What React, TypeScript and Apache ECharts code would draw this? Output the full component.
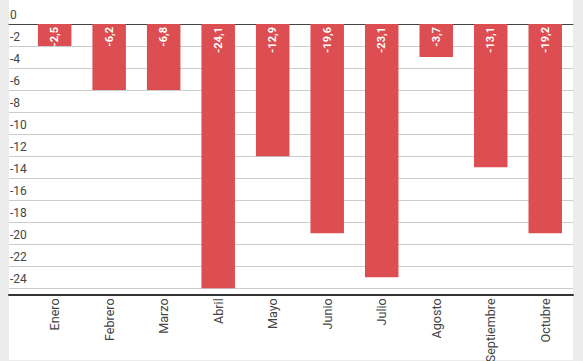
import React, { useEffect, useRef } from "react";
import * as echarts from "echarts";

const categories = ["Enero", "Febrero", "Marzo", "Abril", "Mayo", "Junio", "Julio", "Agosto", "Septiembre", "Octubre"];
// printed values (data labels)
const labelValues = [-2.5, -6.2, -6.8, -24.1, -12.9, -19.6, -23.1, -3.7, -13.1, -19.2];
// bar lengths as drawn in the reference
const barValues = [-2, -6, -6, -24, -12, -19, -23, -3, -13, -19];
const yMin = -24;
const yMax = 0;
const yStep = 2;

const FONT = "Roboto, 'Noto Sans', sans-serif";

export default function App() {
  const ref = useRef<HTMLDivElement>(null);
  useEffect(() => {
    if (!ref.current) return;
    const chart = echarts.init(ref.current, null, { renderer: "svg" });
    chart.setOption({
      animation: false,
      textStyle: { fontFamily: FONT },
      grid: [
        { left: 9, right: 10, top: 24, bottom: 72.7, containLabel: false, outerBoundsMode: "none" },
        { left: 27.4, right: 10.5, top: 24, bottom: 72.7, containLabel: false, outerBoundsMode: "none" },
      ],
      xAxis: [
        {
          gridIndex: 0,
          type: "value",
          position: "top",
          axisLine: { show: true, lineStyle: { color: "#444", width: 1 } },
          axisTick: { show: false },
          axisLabel: { show: false },
          splitLine: { show: false },
        },
        {
          gridIndex: 0,
          type: "value",
          position: "bottom",
          offset: 6,
          axisLine: { show: true, onZero: false, lineStyle: { color: "#333", width: 2 } },
          axisTick: { show: false },
          axisLabel: { show: false },
          splitLine: { show: false },
        },
        {
          gridIndex: 1,
          type: "category",
          data: categories,
          position: "bottom",
          axisLine: { show: false },
          axisTick: { show: false },
          axisLabel: {
            rotate: 90,
            margin: 10,
            fontSize: 12.6,
            color: "#444",
            fontFamily: FONT,
            interval: 0,
          },
        },
      ],
      yAxis: [
        {
          gridIndex: 0,
          type: "value",
          min: yMin,
          max: yMax,
          interval: yStep,
          axisLine: { show: false },
          axisTick: { show: false },
          splitLine: { show: true, lineStyle: { color: "#cccccc", width: 1 } },
          axisLabel: {
            inside: true,
            margin: 1,
            align: "left",
            verticalAlign: "bottom",
            padding: [0, 0, 3, 0],
            fontSize: 12,
            color: "#444",
            fontFamily: FONT,
          },
        },
        {
          gridIndex: 1,
          type: "value",
          min: yMin,
          max: yMax,
          interval: yStep,
          show: false,
        },
      ],
      series: [
        {
          type: "bar",
          xAxisIndex: 2,
          yAxisIndex: 1,
          data: barValues,
          barWidth: 33.5,
          itemStyle: { color: "#dc4e51" },
          label: {
            show: true,
            position: "insideTop",
            distance: 3,
            rotate: 90,
            align: "right",
            verticalAlign: "middle",
            color: "#ffffff",
            fontWeight: "bold",
            fontSize: 11,
            fontFamily: FONT,
            formatter: (p: any) => String(labelValues[p.dataIndex]).replace(".", ","),
          },
        },
      ],
    });
    return () => chart.dispose();
  }, []);
  return (
    <div style={{ position: "fixed", left: 0, top: 0, width: 583, height: 361, background: "#ececec" }}>
      <div style={{ position: "absolute", left: 9, top: 0, width: 564, height: 360, background: "#ffffff" }} />
      <div ref={ref} style={{ position: "absolute", left: 0, top: 0, width: 583, height: 361 }} />
    </div>
  );
}
